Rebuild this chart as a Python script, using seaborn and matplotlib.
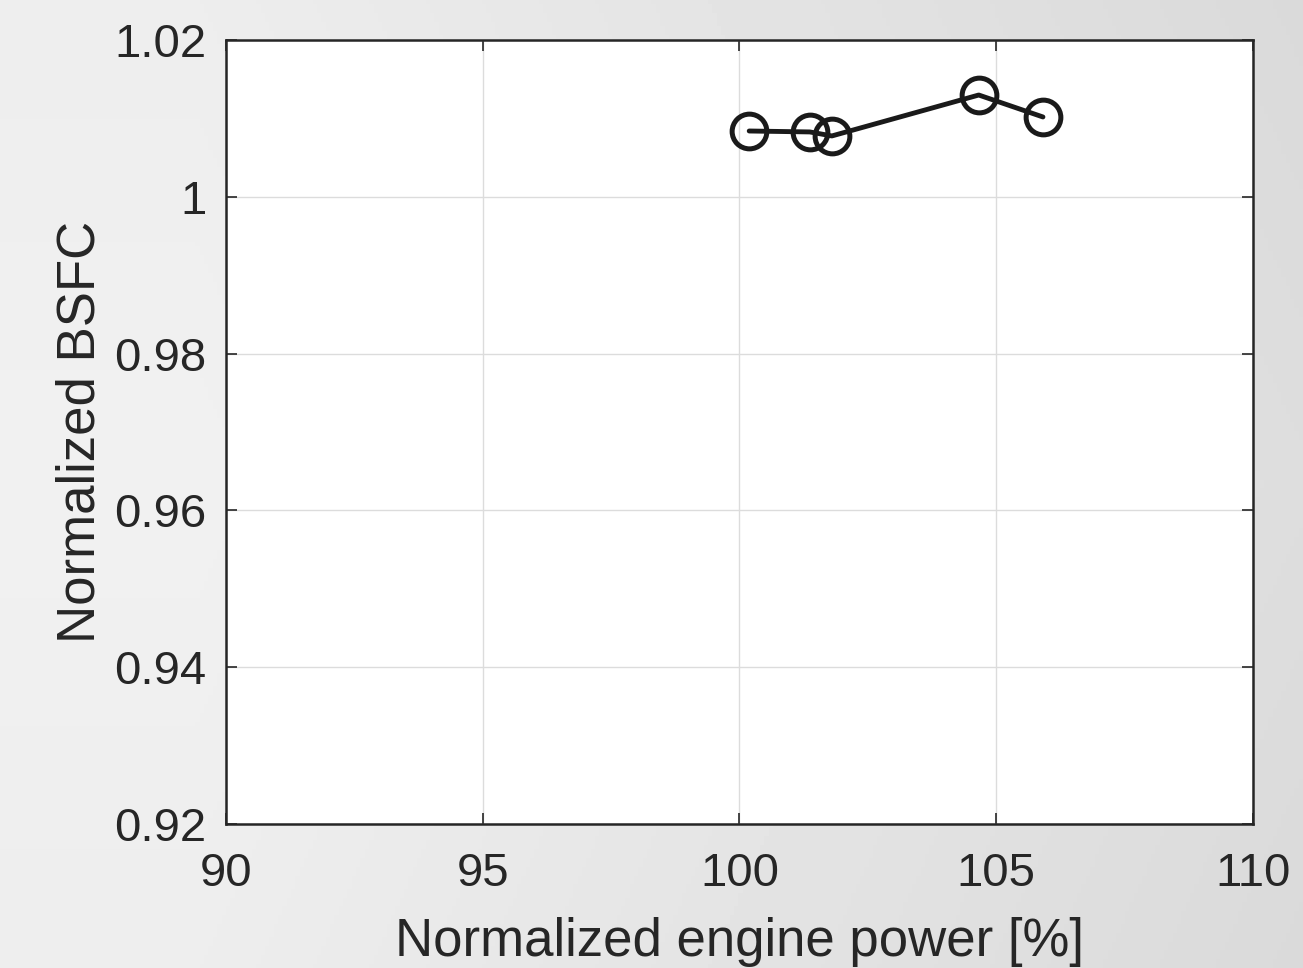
import matplotlib
matplotlib.use("Agg")
import matplotlib.pyplot as plt
import seaborn as sns
import pandas as pd
import numpy as np

engine_power = [100.19, 101.37, 101.80, 104.66, 105.91]
bsfc = [1.00839, 1.00827, 1.00776, 1.01298, 1.01018]

df = pd.DataFrame({"power": engine_power, "bsfc": bsfc})

sns.set_style("ticks")
plt.rcParams["font.family"] = ["Liberation Sans", "DejaVu Sans"]

fig = plt.figure(figsize=(13.03, 9.68), dpi=100)

# grey gradient backdrop
bg = fig.add_axes([0, 0, 1, 1], zorder=-10)
gx = np.linspace(0, 1, 300)
gy = np.linspace(0, 1, 220)
X, Y = np.meshgrid(gx, gy)
shade = 0.945 - 0.09 * np.clip(X - 0.15, 0, None) - 0.03 * np.abs(Y - 0.5)
bg.imshow(shade, cmap="gray", vmin=0, vmax=1, aspect="auto", extent=[0, 1, 0, 1])
bg.axis("off")

ax = fig.add_axes([0.1734, 0.1488, 0.7882, 0.8099])
ax.set_facecolor("white")

sns.lineplot(
    data=df, x="power", y="bsfc", ax=ax, sort=False,
    color="#1a1a1a", linewidth=3.5,
    marker="o", markersize=25, markerfacecolor="none",
    markeredgecolor="#1a1a1a", markeredgewidth=3.6,
)

ax.set_xlim(90, 110)
ax.set_ylim(0.92, 1.02)
ax.set_xticks([90, 95, 100, 105, 110])
ax.set_yticks([0.92, 0.94, 0.96, 0.98, 1.0, 1.02])
ax.set_yticklabels(["0.92", "0.94", "0.96", "0.98", "1", "1.02"])
ax.grid(True, color="#dcdcdc", linewidth=1.0)
ax.set_axisbelow(True)
ax.tick_params(axis="both", direction="in", length=8, width=1.2,
               top=True, right=True, labelsize=34, colors="#262626")
ax.tick_params(axis="x", pad=20)
ax.tick_params(axis="y", pad=14)
for s in ax.spines.values():
    s.set_color("#262626")
    s.set_linewidth(1.8)

ax.set_xlabel("Normalized engine power [%]", fontsize=38, color="#262626", labelpad=15)
ax.set_ylabel("Normalized BSFC", fontsize=38, color="#262626", labelpad=6)

fig.savefig("out.png", dpi=100)
